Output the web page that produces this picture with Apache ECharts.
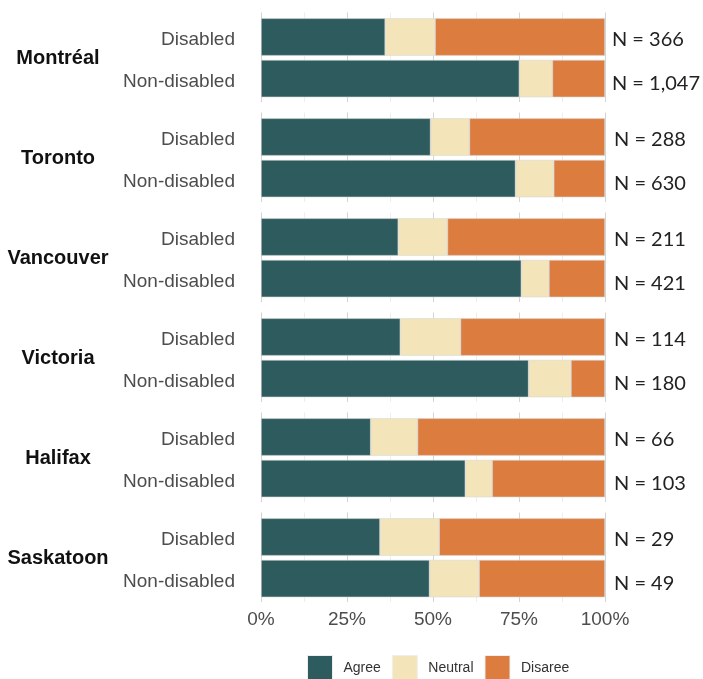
<!DOCTYPE html>
<html>
<head>
<meta charset="utf-8">
<script src="https://cdn.jsdelivr.net/npm/echarts@6/dist/echarts.min.js"></script>
<style>
  html, body { margin: 0; padding: 0; background: #fff; }
  #chart { width: 703px; height: 679px; }
</style>
</head>
<body>
<div id="chart"></div>
<script>
// share of respondents, per city: [Disabled, Non-disabled]
const cities = ['Montréal', 'Toronto', 'Vancouver', 'Victoria', 'Halifax', 'Saskatoon']
const groups = ['Disabled', 'Non-disabled']
const agree = [[36.1, 75.1], [49.3, 74.0], [39.9, 75.7], [40.5, 77.8], [31.9, 59.4], [34.6, 49.0]]
const neutral = [[14.5, 9.6], [11.3, 11.1], [14.3, 8.0], [17.5, 12.3], [13.6, 7.8], [17.2, 14.4]]
const disagree = [[49.4, 15.3], [39.4, 14.9], [45.8, 16.3], [42.0, 9.9], [54.5, 32.8], [48.2, 36.6]]
const nLabels = [
  ['N = 366', 'N = 1,047'], ['N = 288', 'N = 630'], ['N = 211', 'N = 421'],
  ['N = 114', 'N = 180'], ['N = 66', 'N = 103'], ['N = 29', 'N = 49']
]
const xTicks = [0, 25, 50, 75, 100]

const responses = [
  { name: 'Agree', values: agree, color: '#2e5c5e' },
  { name: 'Neutral', values: neutral, color: '#f3e5b9' },
  { name: 'Disaree', values: disagree, color: '#dc7c3e' },
]

const chart = echarts.init(document.getElementById('chart'))

const PLOT_LEFT = 261
const PLOT_W = 344
const STEP = 100

const grid = [], xAxis = [], yAxis = [], series = [], graphic = []

// a grid holding only one category axis (used for text columns)
function labelGrid(top, height, data, position, label) {
  const g = grid.length
  grid.push({ left: PLOT_LEFT, width: PLOT_W, top, height })
  xAxis.push({ gridIndex: g, type: 'value', min: 0, max: 100, show: false })
  yAxis.push({
    gridIndex: g, type: 'category', data, inverse: true, position,
    axisLine: { show: false }, axisTick: { show: false }, axisLabel: label
  })
}

cities.forEach((city, i) => {
  const last = i === cities.length - 1
  // background grid: gridlines only (slightly taller than the bars)
  const bgGrid = grid.length
  grid.push({ left: PLOT_LEFT, width: PLOT_W, top: 12.5 + STEP * i, height: 89.5 })
  xAxis.push({
    gridIndex: bgGrid, type: 'value', min: 0, max: 100, interval: 25,
    axisLine: { show: false }, axisTick: { show: false },
    axisLabel: {
      show: last, margin: 8, fontSize: 19, color: '#4d4d4d', fontFamily: 'Liberation Sans',
      formatter: v => xTicks.includes(v) ? v + '%' : ''
    },
    splitLine: { show: true, lineStyle: { color: '#d4d4d4', width: 1 } },
    minorTick: { show: false, splitNumber: 2 },
    minorSplitLine: { show: true, lineStyle: { color: '#ededed', width: 1 } }
  })
  yAxis.push({ gridIndex: bgGrid, type: 'category', data: groups, show: false })

  // bar grid
  const barGrid = grid.length
  grid.push({ left: PLOT_LEFT, width: PLOT_W, top: 16.2 + STEP * i, height: 83.2 })
  const xi = xAxis.length
  xAxis.push({ gridIndex: barGrid, type: 'value', min: 0, max: 100, show: false })
  const yi = yAxis.length
  yAxis.push({ gridIndex: barGrid, type: 'category', data: groups, inverse: true, show: false })

  // group names on the left, sample sizes on the right
  labelGrid(18.3 + STEP * i, 84, groups, 'left',
    { margin: 26, fontSize: 19, color: '#4d4d4d', fontFamily: 'Liberation Sans' })
  labelGrid(16.9 + STEP * i, 89.5, nLabels[i], 'right',
    { margin: 9, fontSize: 20, color: '#222', fontFamily: 'Lato' })

  responses.forEach(r => {
    series.push({
      name: r.name, type: 'bar', stack: 'p' + i,
      xAxisIndex: xi, yAxisIndex: yi,
      barWidth: 37.4,
      itemStyle: { color: r.color, borderColor: '#d6d6d6', borderWidth: 0.6 },
      emphasis: { disabled: true },
      data: r.values[i]
    })
  })

  graphic.push({
    type: 'text', x: 58, y: 58 + STEP * i,
    style: {
      text: city, align: 'center', verticalAlign: 'middle',
      font: 'bold 20px "Liberation Sans"', fill: '#111'
    }
  })
})

chart.setOption({
  backgroundColor: '#fff',
  animation: false,
  grid, xAxis, yAxis, series, graphic,
  legend: {
    data: responses.map(r => r.name),
    left: 307, top: 655, padding: 0,
    itemWidth: 25, itemHeight: 26, itemGap: 11,
    icon: 'rect',
    textStyle: { fontSize: 14, color: '#333', fontFamily: 'Liberation Sans', padding: [0, 0, 0, 6] },
    itemStyle: { borderColor: '#eeeeee', borderWidth: 1 }
  }
})
</script>
</body>
</html>
